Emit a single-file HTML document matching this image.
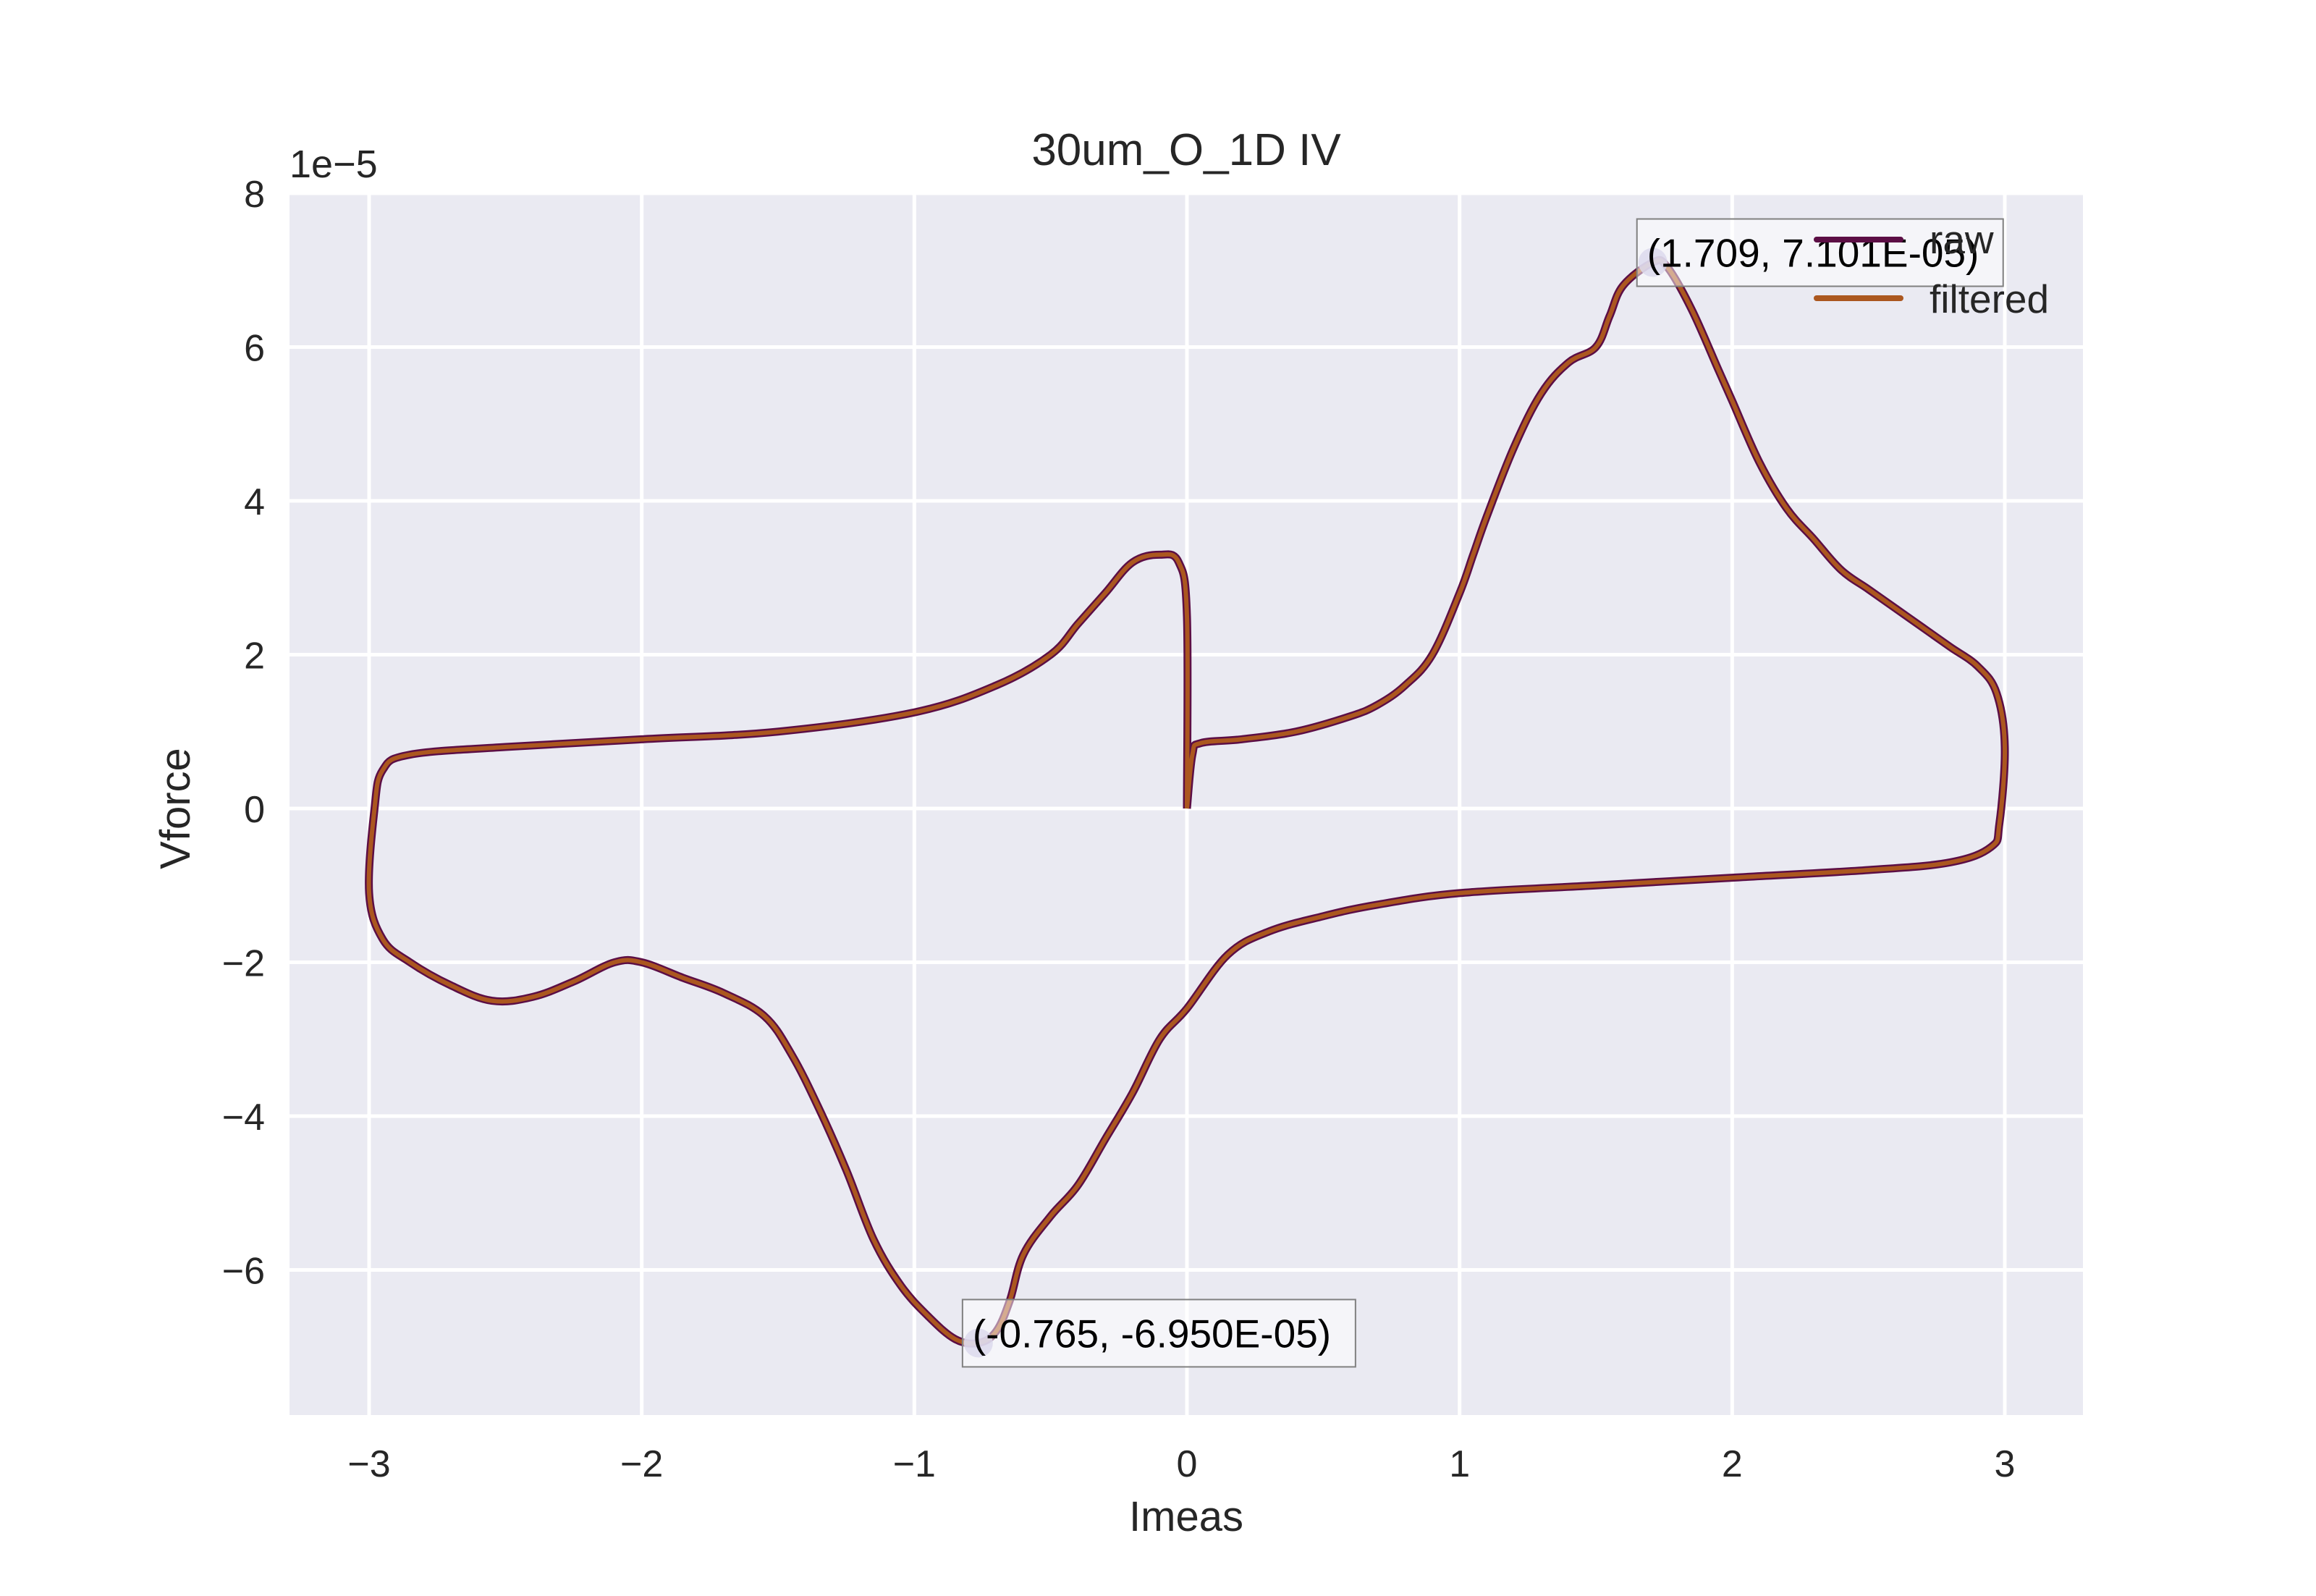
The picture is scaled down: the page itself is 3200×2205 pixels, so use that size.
<!DOCTYPE html>
<html><head><meta charset="utf-8"><style>
html,body{margin:0;padding:0;background:#fff}
svg text{font-family:"Liberation Sans",sans-serif;fill:#262626}
</style></head><body>
<svg id="chart" width="3200" height="2200" viewBox="0 0 3200 2200" xmlns="http://www.w3.org/2000/svg">
<rect x="0" y="0" width="3200" height="2200" fill="#ffffff"/>
<rect x="400" y="267" width="2478" height="1688" fill="#eaeaf2"/>
<g id="grid"></g>
<g id="series"></g>
<g id="ticks"></g>
<text x="1639" y="228" font-size="62" text-anchor="middle">30um_O_1D IV</text>
<text x="1639" y="2115" font-size="58" text-anchor="middle">Imeas</text>
<text x="0" y="0" font-size="58" text-anchor="middle" transform="translate(262,1117) rotate(-90)">Vforce</text>
<text x="400" y="245" font-size="54">1e−5</text>
<g id="annots"></g>
<g>
<line x1="2510" y1="331" x2="2626" y2="331" stroke="#5c0e45" stroke-width="8" stroke-linecap="round"/>
<text x="2666" y="350" font-size="55">raw</text>
<line x1="2510" y1="412" x2="2626" y2="412" stroke="#ab571f" stroke-width="8" stroke-linecap="round"/>
<text x="2666" y="432" font-size="55">filtered</text>
</g>
</svg>
<script>
const xTicks=[-3,-2,-1,0,1,2,3];
const yTicks=[-6,-4,-2,0,2,4,6,8];
const filtX=[0.0,0.02,0.05,0.2,0.4,0.6,0.7,0.8,0.9,1.0,1.05,1.1,1.2,1.3,1.4,1.5,1.55,1.6,1.709,1.76,1.85,1.95,2.0,2.1,2.2,2.3,2.4,2.5,2.6,2.7,2.8,2.9,2.97,3.0,2.98,2.95,2.8,2.5,2.0,1.5,1.0,0.7,0.5,0.3,0.15,0.0,-0.1,-0.2,-0.3,-0.4,-0.5,-0.6,-0.65,-0.7,-0.765,-0.85,-0.95,-1.05,-1.15,-1.25,-1.35,-1.45,-1.55,-1.7,-1.85,-2.0,-2.1,-2.25,-2.4,-2.55,-2.7,-2.85,-2.95,-3.0,-2.98,-2.95,-2.85,-2.5,-2.0,-1.5,-1.0,-0.7,-0.5,-0.4,-0.3,-0.2,-0.1,-0.03,0.0,0.0];
const filtY=[0.0,0.7,0.85,0.9,1.0,1.2,1.35,1.6,2.0,2.8,3.3,3.8,4.7,5.4,5.8,6.0,6.4,6.8,7.1,7.05,6.5,5.7,5.3,4.5,3.9,3.5,3.1,2.85,2.6,2.35,2.1,1.85,1.5,0.8,-0.2,-0.5,-0.7,-0.8,-0.9,-1.0,-1.1,-1.25,-1.4,-1.6,-1.9,-2.6,-3.0,-3.7,-4.3,-4.9,-5.3,-5.8,-6.4,-6.8,-6.95,-6.9,-6.6,-6.2,-5.6,-4.7,-3.9,-3.2,-2.7,-2.4,-2.2,-2.0,-2.0,-2.25,-2.45,-2.5,-2.3,-2.0,-1.7,-1.1,0.0,0.5,0.7,0.8,0.9,1.0,1.25,1.6,2.0,2.4,2.8,3.2,3.3,3.2,2.5,0.0];
const peakX=[1.709,-0.765];
const peakY=[7.101,-6.950];
const peakLabels=["(1.709, 7.101E-05)","(-0.765, -6.950E-05)"];
const ns="http://www.w3.org/2000/svg";
const sx=v=>510+(v+3)*376.67;
const sy=v=>1117-v*106.25;
const minus=v=>String(v).replace('-','\u2212');
function mk(tag,attrs,parent){const e=document.createElementNS(ns,tag);for(const k in attrs)e.setAttribute(k,attrs[k]);parent.appendChild(e);return e;}
const grid=document.getElementById('grid'),ticks=document.getElementById('ticks');
xTicks.forEach(t=>{
 const l=mk('line',{x1:sx(t),x2:sx(t),y1:267,y2:1955,stroke:'#fff','stroke-width':5},grid);
 
 
 const tx=mk('text',{x:sx(t),y:2040,'font-size':52,'text-anchor':'middle'},ticks);
 tx.textContent=minus(t);
 
 
});
yTicks.forEach(t=>{
 const l=mk('line',{x1:400,x2:2878,y1:sy(t),y2:sy(t),stroke:'#fff','stroke-width':5},grid);
 
 
 const tx=mk('text',{x:366,y:sy(t)+19,'font-size':52,'text-anchor':'end'},ticks);
 tx.textContent=minus(t);
 
 
});
function smoothPath(xs,ys){
 const P=xs.map((x,i)=>[sx(x),sy(ys[i])]);
 let d='M'+P[0][0].toFixed(1)+','+P[0][1].toFixed(1);
 const t=0.35;
 for(let i=0;i<P.length-1;i++){
  const p0=P[Math.max(0,i-1)],p1=P[i],p2=P[i+1],p3=P[Math.min(P.length-1,i+2)];
  const c1=[p1[0]+(p2[0]-p0[0])*t/2,p1[1]+(p2[1]-p0[1])*t/2];
  const c2=[p2[0]-(p3[0]-p1[0])*t/2,p2[1]-(p3[1]-p1[1])*t/2];
  d+=' C'+c1[0].toFixed(1)+','+c1[1].toFixed(1)+' '+c2[0].toFixed(1)+','+c2[1].toFixed(1)+' '+p2[0].toFixed(1)+','+p2[1].toFixed(1);
 }
 return d;
}
const series=document.getElementById('series');
const d=smoothPath(filtX,filtY);
const raw=mk('path',{d:d,fill:'none',stroke:'#5c0e45','stroke-width':11,'stroke-linejoin':'round'},series);


const filt=mk('path',{d:d,fill:'none',stroke:'#ab571f','stroke-width':6,'stroke-linejoin':'round'},series);


const ann=document.getElementById('annots');
const widths=[506,543];
peakX.forEach((px,i)=>{
 const cx=sx(px),cy=sy(peakY[i]);
 const c=mk('circle',{cx:cx,cy:cy,r:20,fill:'#b8b4dc','fill-opacity':0.85},ann);
 
 
 const bx=cx-22,by=cy-60;
 const r=mk('rect',{x:bx,y:by,width:widths[i],height:93,fill:'#ffffff','fill-opacity':0.5,stroke:'#808080','stroke-width':2},ann);
 
 
 const t=mk('text',{x:bx+14,y:by+66,'font-size':55},ann);
 t.style.fill='#000';
 t.textContent=peakLabels[i];
 
 
});
</script>
</body></html>
